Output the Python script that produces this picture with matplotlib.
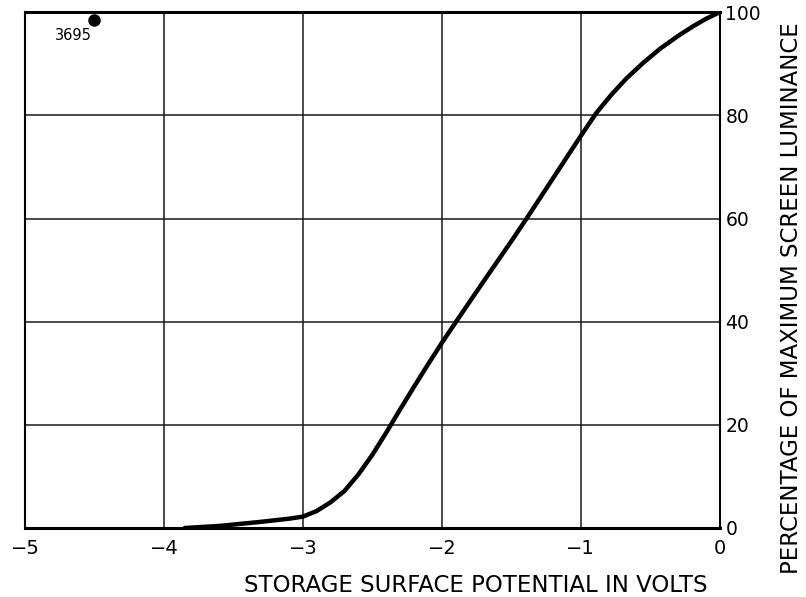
import numpy as np
import matplotlib.pyplot as plt

# storage surface potential (V) vs percentage of maximum screen luminance
volts = [-3.85, -3.6, -3.3, -3.1, -3.0, -2.9, -2.8, -2.7, -2.6, -2.5, -2.4,
         -2.3, -2.2, -2.1, -2.0, -1.9, -1.7, -1.5, -1.39, -1.2, -1.02,
         -0.89, -0.78, -0.67, -0.55, -0.43, -0.3, -0.19, -0.1, 0.0]
luminance = [0.0, 0.4, 1.2, 1.8, 2.2, 3.3, 5.0, 7.2, 10.4, 14.2, 18.5,
             23.0, 27.4, 31.7, 35.9, 39.9, 47.8, 55.6, 60.0, 67.8, 75.2,
             80.4, 84.0, 87.2, 90.2, 92.9, 95.4, 97.3, 98.7, 100.0]

x_ticks = [-5, -4, -3, -2, -1, 0]
x_ticklabels = ["\u22125", "\u22124", "\u22123", "\u22122", "\u22121", "0"]
y_ticks = [0, 20, 40, 60, 80, 100]

plt.rcParams['font.family'] = ['DejaVu Sans']

fig = plt.figure(figsize=(8.06, 5.97), dpi=100)
ax = fig.add_axes([0.031, 0.1156, 0.862, 0.864])

ax.plot(volts, luminance, color="black", linewidth=3.2, solid_capstyle="round",
        solid_joinstyle="round", zorder=3)

ax.set_xlim(-5, 0)
ax.set_ylim(0, 100)
ax.set_xticks(x_ticks)
ax.set_xticklabels(x_ticklabels)
ax.set_yticks(y_ticks)
ax.yaxis.tick_right()
ax.tick_params(axis="x", length=0, pad=8, labelsize=14)
ax.tick_params(axis="y", length=0, pad=4, labelsize=13.5)

ax.grid(True, color="#1a1a1a", linewidth=1.1)
for side in ["left", "right"]:
    ax.spines[side].set_linewidth(1.5)
for side in ["top", "bottom"]:
    ax.spines[side].set_linewidth(2.2)

fig.text(0.59, 0.02, "STORAGE SURFACE POTENTIAL IN VOLTS", ha="center",
         va="center", fontsize=16.5)
fig.text(0.982, 0.50, "PERCENTAGE OF MAXIMUM SCREEN LUMINANCE", ha="center",
         va="center", rotation=90, fontsize=16.5)

# drawing number in the corner
ax.text(0.043, 0.955, "3695", transform=ax.transAxes, fontsize=10.5,
        ha="left", va="center")
ax.plot([0.1], [0.985], transform=ax.transAxes, marker="o", markersize=8,
        color="black", clip_on=False)

fig.savefig("out.png", dpi=100)
